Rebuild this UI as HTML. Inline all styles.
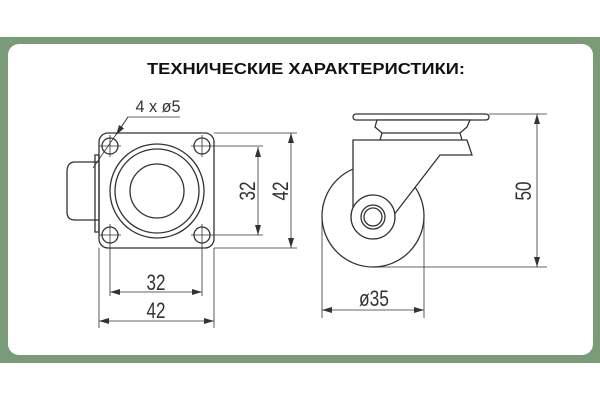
<!DOCTYPE html>
<html><head><meta charset="utf-8"><style>
html,body{margin:0;padding:0;background:#fff;}
svg{display:block}
</style></head><body>
<svg width="600" height="400" viewBox="0 0 600 400" xmlns="http://www.w3.org/2000/svg">
<defs>
<marker id="a" viewBox="0 0 10 6" refX="10" refY="3" markerWidth="10" markerHeight="6" markerUnits="userSpaceOnUse" orient="auto-start-reverse"><path d="M0,0 L10,3 L0,6 z" fill="#333"/></marker>
</defs>
<rect x="0" y="0" width="600" height="400" fill="#fff"/>
<rect x="0" y="37" width="600" height="326" fill="#7a9a78"/>
<rect x="8" y="44" width="585" height="311" rx="11" fill="#fff"/>
<text x="306" y="74" text-anchor="middle" font-family="Liberation Sans, DejaVu Sans, sans-serif" font-weight="bold" font-size="16" textLength="318" lengthAdjust="spacingAndGlyphs" fill="#111">ТЕХНИЧЕСКИЕ ХАРАКТЕРИСТИКИ:</text>

<g fill="none" stroke="#333" stroke-width="1.3">
<path d="M99,162 L75,162 Q67,162 67,172 L67,212 Q67,220 75,220 L99,220"/>
<rect x="95" y="155" width="4" height="77"/>
<rect x="99" y="133" width="115" height="115" rx="9"/>
<circle cx="157" cy="191" r="47"/>
<circle cx="157" cy="191" r="42"/>
<circle cx="157" cy="191" r="27"/>
<circle cx="110" cy="146" r="8"/><circle cx="202" cy="146" r="8"/>
<circle cx="110" cy="235" r="8"/><circle cx="202" cy="235" r="8"/>
<g stroke-width="0.8">
<path d="M99,146 H121 M110,135 V157 M191,146 H263 M202,135 V157 M99,235 H121 M110,224 V296 M191,235 H263 M202,224 V296"/>
<path d="M214,133 H297 M214,248 H297 M99,248 V328 M214,248 V328"/>
<line x1="258" y1="147" x2="258" y2="235" marker-start="url(#a)" marker-end="url(#a)"/>
<line x1="291" y1="133" x2="291" y2="248" marker-start="url(#a)" marker-end="url(#a)"/>
<line x1="110" y1="292" x2="202" y2="292" marker-start="url(#a)" marker-end="url(#a)"/>
<line x1="99" y1="321" x2="214" y2="321" marker-start="url(#a)" marker-end="url(#a)"/>
<path d="M180,117 H128 L93,168"/>
<line x1="128" y1="117" x2="116" y2="135" marker-end="url(#a)"/>
</g>
<circle cx="373" cy="216" r="51"/>
<path d="M353,208 V140 H467 L472,155 H440 L390,220" fill="#fff"/>
<rect x="353" y="114" width="136" height="6" rx="3" fill="#fff"/>
<path d="M377,120 L470,120 L467,127 L460,133 L382,133 L375,127 Z" fill="#fff"/>
<path d="M382,133 L380,140 M460,133 L462,140"/>
<circle cx="373" cy="217" r="22" fill="#fff"/>
<circle cx="373" cy="217" r="12"/>
<circle cx="373" cy="217" r="9"/>
<g stroke-width="0.8">
<path d="M489,114 H547 M373,267 H547 M322,216 V318 M424,216 V318"/>
<line x1="537" y1="114" x2="537" y2="267" marker-start="url(#a)" marker-end="url(#a)"/>
<line x1="322" y1="310" x2="424" y2="310" marker-start="url(#a)" marker-end="url(#a)"/>
</g>
</g>
<g font-family="Liberation Sans, DejaVu Sans, sans-serif" font-size="22" fill="#333" text-anchor="middle">
<text x="156" y="290" textLength="19" lengthAdjust="spacingAndGlyphs">32</text>
<text x="156" y="318" textLength="19" lengthAdjust="spacingAndGlyphs">42</text>
<text x="158" y="112" font-size="17" textLength="45" lengthAdjust="spacingAndGlyphs">4 x ø5</text>
<text transform="translate(255,191) rotate(-90)" textLength="19" lengthAdjust="spacingAndGlyphs">32</text>
<text transform="translate(288,191) rotate(-90)" textLength="19" lengthAdjust="spacingAndGlyphs">42</text>
<text transform="translate(531,191) rotate(-90)" textLength="19" lengthAdjust="spacingAndGlyphs">50</text>
<text x="374" y="306" textLength="30" lengthAdjust="spacingAndGlyphs">ø35</text>
</g>
</svg>
</body></html>
